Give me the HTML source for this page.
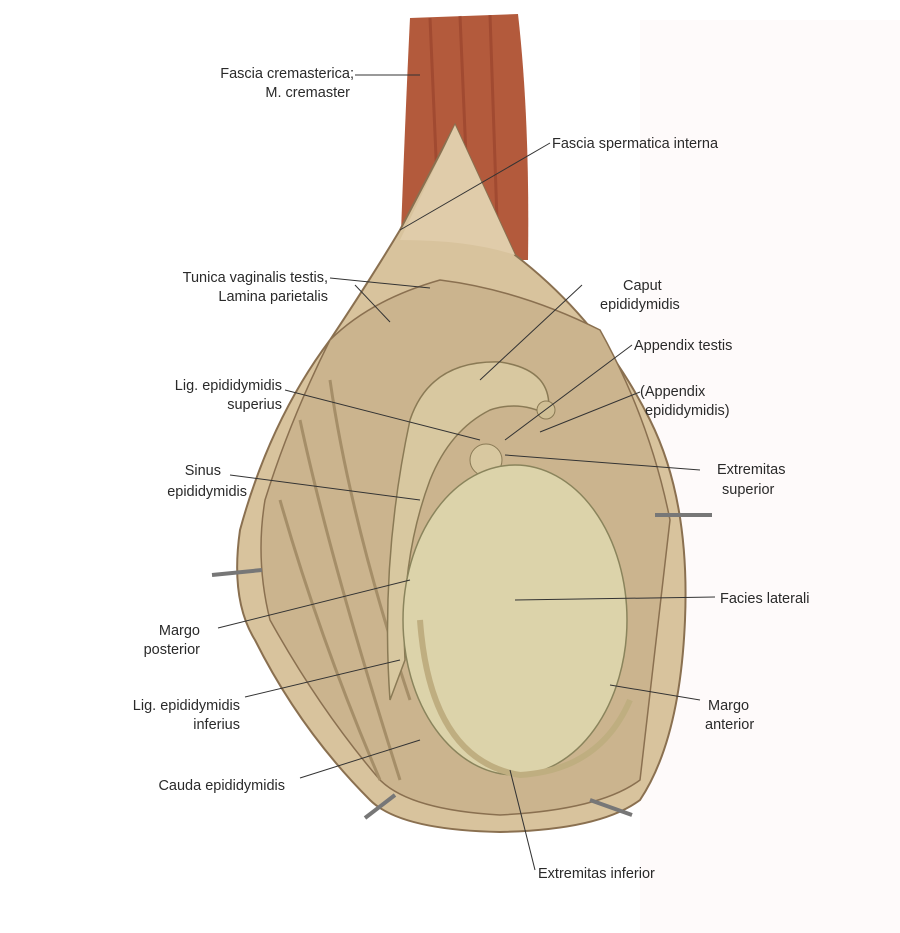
<!DOCTYPE html>
<html><head><meta charset="utf-8"><style>
body{margin:0;background:#fff;}
svg{display:block}
text{font-family:"Liberation Sans",sans-serif;font-size:14.5px;fill:#2a2a2a}
</style></head><body>
<svg width="900" height="933" viewBox="0 0 900 933">
<rect width="900" height="933" fill="#fff"/>
<rect x="640" y="20" width="260" height="913" fill="#fefafa"/>
<!-- cremaster -->
<path d="M410 18 L518 14 Q530 120 528 260 L400 260 Q405 120 410 18Z" fill="#b35a3c"/>
<path d="M430 18 L440 250 M460 16 L470 250 M490 15 L498 250" stroke="#94402a" stroke-width="3" fill="none" opacity=".6"/>
<!-- outer sac -->
<path d="M400 230 L455 125 L515 255 Q600 320 650 420 Q690 500 685 620 Q680 740 640 800 Q600 830 500 832 Q400 830 370 800 Q300 730 255 640 Q230 600 240 530 Q270 420 330 340 Q370 280 400 230Z" fill="#d8c39d" stroke="#8a7050" stroke-width="2"/>
<path d="M455 125 L515 255 Q470 240 400 240Z" fill="#e0ccaa"/>
<path d="M330 340 Q370 300 440 280 Q520 290 600 330 Q650 420 670 520 L640 780 Q600 810 500 815 Q410 810 380 780 Q320 710 270 620 Q255 560 265 500 Q290 420 330 340Z" fill="#cbb48e" stroke="#8a7050" stroke-width="1.5"/>
<path d="M300 420 Q330 560 400 780 M330 380 Q350 520 410 700 M280 500 Q320 640 380 780" stroke="#a58e68" stroke-width="3" fill="none"/>
<!-- epididymis -->
<path d="M410 420 Q430 360 500 362 Q555 370 548 415 Q520 400 490 410 Q450 430 430 480 Q400 560 405 660 L390 700 Q380 560 410 420Z" fill="#d8c8a0" stroke="#8a7a55" stroke-width="1.5"/>
<circle cx="486" cy="460" r="16" fill="#d8c8a0" stroke="#8a7a55"/>
<circle cx="546" cy="410" r="9" fill="#d0bf95" stroke="#8a7a55"/>
<!-- testis -->
<ellipse cx="515" cy="620" rx="112" ry="155" fill="#dcd3aa" stroke="#8a845c" stroke-width="1.5"/>
<path d="M420 620 Q430 760 520 775 Q600 770 630 700" stroke="#bfae80" stroke-width="6" fill="none"/>
<!-- hooks -->
<g stroke="#777" stroke-width="4" fill="none">
<path d="M212 575 L262 570"/><path d="M655 515 L712 515"/><path d="M365 818 L395 795"/><path d="M590 800 L632 815"/>
</g>
<!-- leader lines -->
<g stroke="#333" stroke-width="1" fill="none">
<path d="M355 75 L420 75"/>
<path d="M550 143 L400 230"/>
<path d="M330 278 L430 288"/><path d="M355 285 L390 322"/>
<path d="M582 285 L480 380"/>
<path d="M632 345 L505 440"/>
<path d="M640 392 L540 432"/>
<path d="M285 390 L480 440"/>
<path d="M700 470 L505 455"/>
<path d="M230 475 L420 500"/>
<path d="M715 597 L515 600"/>
<path d="M218 628 L410 580"/>
<path d="M245 697 L400 660"/>
<path d="M700 700 L610 685"/>
<path d="M300 778 L420 740"/>
<path d="M535 870 L510 770"/>
</g>
<g>
<text x="354" y="78" text-anchor="end">Fascia cremasterica;</text>
<text x="350" y="97" text-anchor="end">M. cremaster</text>
<text x="552" y="148">Fascia spermatica interna</text>
<text x="328" y="282" text-anchor="end">Tunica vaginalis testis,</text>
<text x="328" y="301" text-anchor="end">Lamina parietalis</text>
<text x="623" y="290">Caput</text>
<text x="600" y="309">epididymidis</text>
<text x="634" y="350">Appendix testis</text>
<text x="282" y="390" text-anchor="end">Lig. epididymidis</text>
<text x="282" y="409" text-anchor="end">superius</text>
<text x="640" y="396">(Appendix</text>
<text x="645" y="415">epididymidis)</text>
<text x="221" y="475" text-anchor="end">Sinus</text>
<text x="247" y="496" text-anchor="end">epididymidis</text>
<text x="717" y="474">Extremitas</text>
<text x="722" y="494">superior</text>
<text x="720" y="603">Facies laterali</text>
<text x="200" y="635" text-anchor="end">Margo</text>
<text x="200" y="654" text-anchor="end">posterior</text>
<text x="240" y="710" text-anchor="end">Lig. epididymidis</text>
<text x="240" y="729" text-anchor="end">inferius</text>
<text x="708" y="710">Margo</text>
<text x="705" y="729">anterior</text>
<text x="285" y="790" text-anchor="end">Cauda epididymidis</text>
<text x="538" y="878">Extremitas inferior</text>
</g>
</svg>
</body></html>
